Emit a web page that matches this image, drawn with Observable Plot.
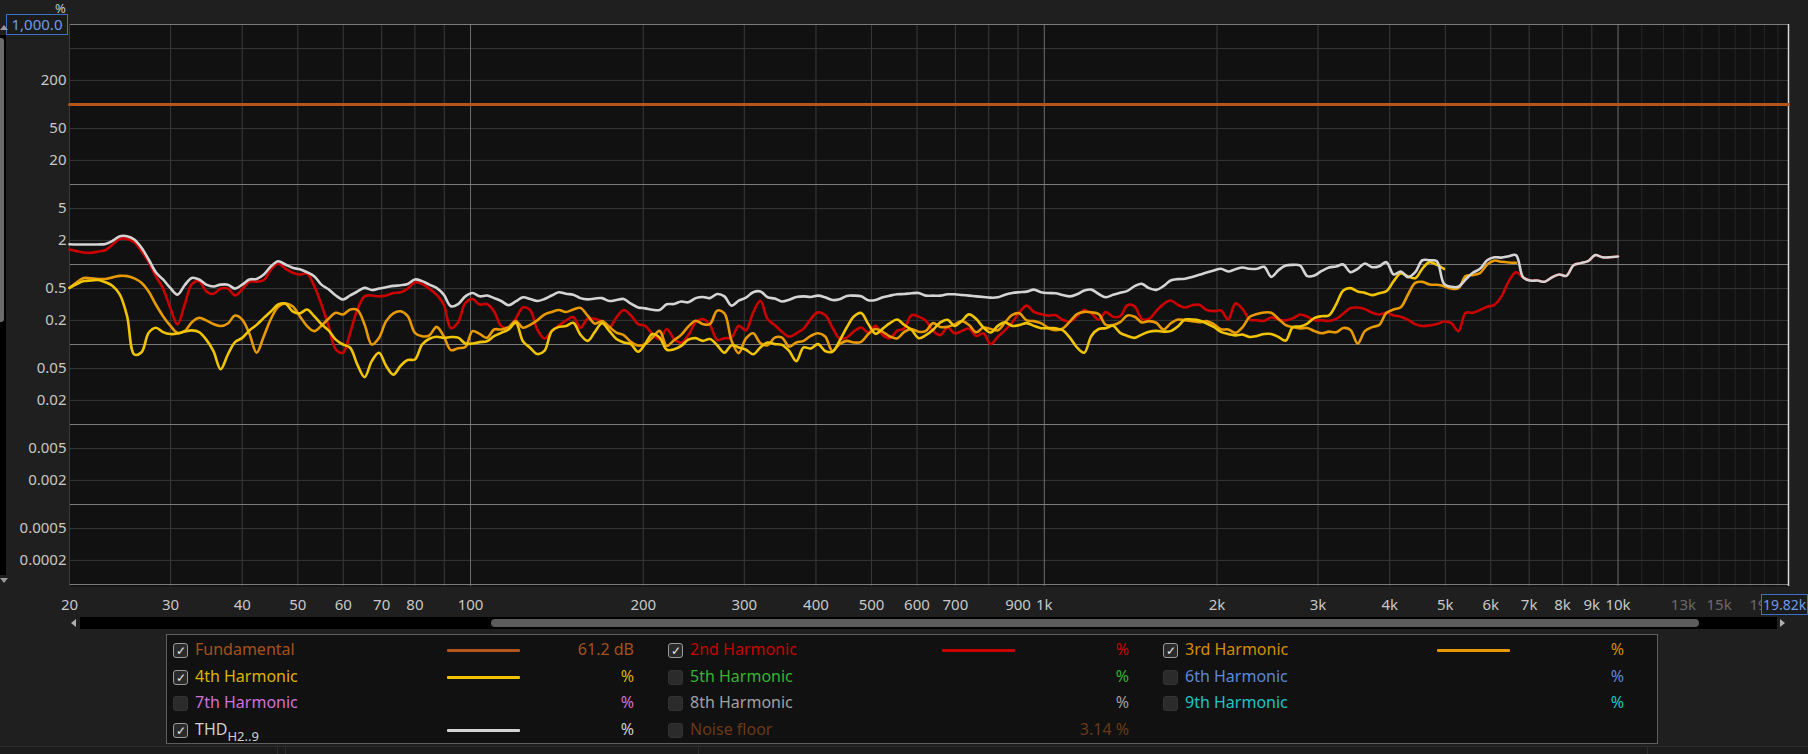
<!DOCTYPE html>
<html><head><meta charset="utf-8">
<script src="https://cdn.jsdelivr.net/npm/d3@7"></script>
<script src="https://cdn.jsdelivr.net/npm/@observablehq/plot@0.6"></script>
<style>
html,body{margin:0;padding:0;background:#1f1f1f;}
#wrap{position:relative;width:1808px;height:754px;overflow:hidden;background:#1f1f1f;font-family:"Noto Sans",sans-serif;}
#chart{position:absolute;left:0;top:0;}
.abs{position:absolute;}
.box{position:absolute;border:1px solid #3d6fc4;color:#6d9be6;background:#1b1b1b;font-size:15px;line-height:20px;box-sizing:border-box;white-space:nowrap;overflow:hidden;}
.cb{position:absolute;width:15px;height:15px;border-radius:3px;box-sizing:border-box;}
.cb.on{background:#2a2a2a;border:1px solid #9a9a9a;color:#e8e8e8;font-size:12px;line-height:13px;text-align:center;}
.cb.off{background:#2b2b2b;border:1px solid #333;}
.lab{position:absolute;font-size:16px;line-height:20px;white-space:nowrap;}
.val{position:absolute;font-size:16px;line-height:20px;white-space:nowrap;text-align:right;width:120px;}
.smp{position:absolute;width:73px;height:3px;border-radius:1px;}
</style></head><body>
<div id="wrap"><div id="chart"></div></div>
<script>
// ---- data ----
const freqs = [
20, 20.59, 21.19, 21.81, 22.45, 23.11, 23.78, 24.48, 25.2, 25.94, 26.7, 27.48,
28.28, 29.11, 29.97, 30.84, 31.75, 32.68, 33.64, 34.62, 35.64, 36.68, 37.76, 38.86,
40, 41.17, 42.38, 43.62, 44.9, 46.22, 47.57, 48.96, 50.4, 51.88, 53.39, 54.96,
56.57, 58.23, 59.93, 61.69, 63.5, 65.36, 67.27, 69.24, 71.27, 73.36, 75.51, 77.72,
80, 82.34, 84.76, 87.24, 89.8, 92.43, 95.14, 97.93, 100.8, 103.7, 106.8, 109.9,
113.1, 116.5, 119.9, 123.4, 127, 130.7, 134.5, 138.5, 142.5, 146.7, 151, 155.4,
160, 164.7, 169.5, 174.5, 179.6, 184.9, 190.3, 195.9, 201.6, 207.5, 213.6, 219.8,
226.3, 232.9, 239.7, 246.8, 254, 261.4, 269.1, 277, 285.1, 293.4, 302, 310.9,
320, 329.4, 339, 349, 359.2, 369.7, 380.6, 391.7, 403.2, 415, 427.2, 439.7,
452.5, 465.8, 479.5, 493.5, 508, 522.9, 538.2, 554, 570.2, 586.9, 604.1, 621.8,
640, 658.8, 678.1, 697.9, 718.4, 739.4, 761.1, 783.4, 806.4, 830, 854.3, 879.3,
905.1, 931.6, 958.9, 987, 1016, 1046, 1076, 1108, 1140, 1174, 1208, 1244,
1280, 1318, 1356, 1396, 1437, 1479, 1522, 1567, 1613, 1660, 1709, 1759,
1810, 1863, 1918, 1974, 2032, 2092, 2153, 2216, 2281, 2348, 2416, 2487,
2560, 2635, 2712, 2792, 2874, 2958, 3044, 3134, 3225, 3320, 3417, 3517,
3620, 3727, 3836, 3948, 4064, 4183, 4305, 4432, 4561, 4695, 4833, 4974,
5120, 5270, 5424, 5583, 5747, 5915, 6089, 6267, 6451, 6640, 6834, 7035,
7241, 7453, 7671, 7896, 8127, 8366, 8611, 8863, 9123, 9390, 9665, 10000];

const thd = [
1.79, 1.78, 1.78, 1.78, 1.78, 1.81, 1.98, 2.26, 2.26, 2.05, 1.62, 1.155,
0.80, 0.65, 0.51, 0.42, 0.55, 0.68, 0.65, 0.56, 0.53, 0.56, 0.56, 0.50,
0.56, 0.65, 0.66, 0.75, 0.95, 1.10, 1.0, 0.91, 0.87, 0.80, 0.715, 0.56,
0.49, 0.41, 0.365, 0.41, 0.46, 0.51, 0.48, 0.50, 0.52, 0.54, 0.55, 0.57,
0.65, 0.62, 0.56, 0.51, 0.42, 0.30, 0.32, 0.40, 0.44, 0.40, 0.41, 0.38,
0.35, 0.31, 0.345, 0.39, 0.37, 0.35, 0.37, 0.41, 0.45, 0.43, 0.42, 0.38,
0.367, 0.375, 0.38, 0.35, 0.36, 0.371, 0.324, 0.291, 0.283, 0.272, 0.27, 0.318,
0.321, 0.345, 0.337, 0.38, 0.393, 0.38, 0.428, 0.40, 0.306, 0.353, 0.385, 0.45,
0.46, 0.389, 0.375, 0.345, 0.362, 0.393, 0.40, 0.393, 0.408, 0.389, 0.36, 0.367,
0.405, 0.408, 0.40, 0.357, 0.36, 0.389, 0.408, 0.424, 0.428, 0.437, 0.44, 0.408,
0.408, 0.408, 0.424, 0.424, 0.416, 0.408, 0.40, 0.393, 0.385, 0.389, 0.42, 0.44,
0.45, 0.458, 0.485, 0.45, 0.44, 0.437, 0.416, 0.40, 0.424, 0.472, 0.485, 0.428,
0.39, 0.418, 0.442, 0.468, 0.536, 0.573, 0.506, 0.482, 0.536, 0.631, 0.656, 0.662,
0.70, 0.743, 0.794, 0.841, 0.883, 0.818, 0.874, 0.917, 0.883, 0.883, 0.935, 0.70,
0.85, 0.972, 0.99, 0.97, 0.715, 0.73, 0.83, 0.917, 0.944, 1.0, 0.802, 0.883,
1.03, 0.926, 0.953, 1.07, 0.75, 0.818, 0.694, 0.802, 1.13, 1.13, 1.10, 0.573,
0.526, 0.526, 0.649, 0.787, 0.883, 1.13, 1.23, 1.22, 1.27, 1.31, 0.69, 0.63,
0.63, 0.61, 0.69, 0.75, 0.72, 0.98, 1.04, 1.1, 1.31, 1.23, 1.23, 1.26];

const h2 = [
1.54, 1.47, 1.41, 1.40, 1.45, 1.52, 1.78, 2.09, 2.09, 1.90, 1.47, 1.07,
0.715, 0.50, 0.287, 0.178, 0.316, 0.57, 0.62, 0.46, 0.43, 0.50, 0.50, 0.41,
0.49, 0.61, 0.61, 0.64, 0.87, 1.02, 0.89, 0.79, 0.75, 0.77, 0.54, 0.316,
0.17, 0.087, 0.079, 0.14, 0.274, 0.40, 0.41, 0.40, 0.41, 0.44, 0.45, 0.50,
0.60, 0.57, 0.50, 0.42, 0.316, 0.16, 0.19, 0.33, 0.37, 0.316, 0.32, 0.26,
0.17, 0.16, 0.21, 0.29, 0.27, 0.154, 0.119, 0.147, 0.172, 0.20, 0.22, 0.162,
0.21, 0.21, 0.193, 0.163, 0.218, 0.27, 0.231, 0.18, 0.171, 0.135, 0.117, 0.156,
0.117, 0.105, 0.131, 0.189, 0.208, 0.175, 0.114, 0.12, 0.122, 0.171, 0.151, 0.252,
0.353, 0.208, 0.175, 0.144, 0.125, 0.138, 0.158, 0.208, 0.252, 0.233, 0.163, 0.119,
0.122, 0.146, 0.163, 0.141, 0.171, 0.131, 0.12, 0.148, 0.16, 0.233, 0.223, 0.198,
0.148, 0.131, 0.163, 0.138, 0.148, 0.158, 0.128, 0.138, 0.101, 0.125, 0.151, 0.189,
0.252, 0.306, 0.256, 0.24, 0.229, 0.233, 0.204, 0.193, 0.225, 0.27, 0.245, 0.204,
0.254, 0.222, 0.226, 0.31, 0.30, 0.209, 0.209, 0.262, 0.32, 0.355, 0.313, 0.29,
0.31, 0.313, 0.27, 0.261, 0.266, 0.205, 0.326, 0.279, 0.205, 0.201, 0.197, 0.218,
0.205, 0.2, 0.213, 0.237, 0.222, 0.201, 0.201, 0.197, 0.209, 0.244, 0.285, 0.29,
0.277, 0.249, 0.237, 0.249, 0.231, 0.222, 0.203, 0.18, 0.17, 0.173, 0.18, 0.194,
0.185, 0.147, 0.249, 0.249, 0.27, 0.296, 0.313, 0.402, 0.619, 0.80, 0.69, 0.63,
0.63, 0.61, 0.69, 0.75, 0.72, 0.98, 1.04, 1.1, 1.31, 1.23, 1.23, 1.26];

const h3 = [
0.51, 0.60, 0.68, 0.67, 0.66, 0.66, 0.69, 0.72, 0.715, 0.67, 0.59, 0.46,
0.316, 0.226, 0.172, 0.14, 0.147, 0.19, 0.215, 0.20, 0.18, 0.17, 0.183, 0.23,
0.205, 0.136, 0.079, 0.127, 0.21, 0.296, 0.325, 0.30, 0.226, 0.17, 0.147, 0.172,
0.21, 0.249, 0.237, 0.274, 0.27, 0.178, 0.10, 0.121, 0.196, 0.245, 0.26, 0.226,
0.14, 0.127, 0.13, 0.166, 0.127, 0.085, 0.09, 0.093, 0.147, 0.136, 0.121, 0.154,
0.154, 0.165, 0.196, 0.162, 0.176, 0.20, 0.237, 0.255, 0.27, 0.255, 0.274, 0.287,
0.229, 0.182, 0.196, 0.166, 0.141, 0.131, 0.108, 0.097, 0.101, 0.122, 0.148, 0.096,
0.113, 0.132, 0.168, 0.198, 0.18, 0.18, 0.265, 0.245, 0.111, 0.078, 0.119, 0.138,
0.104, 0.098, 0.122, 0.122, 0.094, 0.106, 0.111, 0.128, 0.138, 0.126, 0.083, 0.101,
0.111, 0.106, 0.108, 0.135, 0.156, 0.144, 0.126, 0.119, 0.144, 0.156, 0.144, 0.148,
0.185, 0.166, 0.166, 0.178, 0.196, 0.175, 0.142, 0.163, 0.156, 0.151, 0.189, 0.235,
0.245, 0.2, 0.196, 0.185, 0.161, 0.151, 0.158, 0.193, 0.24, 0.256, 0.252, 0.24,
0.176, 0.175, 0.19, 0.231, 0.222, 0.189, 0.196, 0.187, 0.154, 0.183, 0.205, 0.201,
0.196, 0.19, 0.196, 0.18, 0.155, 0.154, 0.14, 0.165, 0.222, 0.24, 0.251, 0.249,
0.209, 0.175, 0.165, 0.159, 0.161, 0.147, 0.138, 0.145, 0.142, 0.161, 0.152, 0.103,
0.147, 0.165, 0.176, 0.249, 0.274, 0.293, 0.422, 0.59, 0.607, 0.562, 0.557, 0.536,
0.5, 0.506, 0.715, 0.736, 0.78, 1.0, 1.12, 1.08, 1.06, 1.05];

const h4 = [
0.51, 0.57, 0.62, 0.63, 0.64, 0.60, 0.54, 0.42, 0.226, 0.075, 0.08, 0.14,
0.162, 0.143, 0.135, 0.137, 0.145, 0.15, 0.143, 0.115, 0.0825, 0.049, 0.075, 0.107,
0.121, 0.15, 0.176, 0.215, 0.26, 0.316, 0.325, 0.26, 0.245, 0.274, 0.226, 0.18,
0.15, 0.115, 0.10, 0.091, 0.056, 0.039, 0.062, 0.079, 0.054, 0.042, 0.054, 0.064,
0.065, 0.10, 0.118, 0.125, 0.121, 0.124, 0.122, 0.103, 0.103, 0.107, 0.11, 0.127,
0.14, 0.154, 0.187, 0.11, 0.091, 0.076, 0.083, 0.147, 0.166, 0.17, 0.187, 0.133,
0.111, 0.144, 0.184, 0.148, 0.117, 0.106, 0.101, 0.081, 0.102, 0.135, 0.122, 0.086,
0.087, 0.096, 0.115, 0.12, 0.111, 0.117, 0.098, 0.079, 0.098, 0.092, 0.086, 0.0756,
0.092, 0.106, 0.101, 0.099, 0.083, 0.062, 0.092, 0.089, 0.101, 0.083, 0.081, 0.111,
0.163, 0.224, 0.248, 0.18, 0.136, 0.158, 0.185, 0.205, 0.175, 0.153, 0.12, 0.131,
0.153, 0.189, 0.204, 0.171, 0.198, 0.238, 0.208, 0.163, 0.141, 0.171, 0.189, 0.171,
0.175, 0.185, 0.171, 0.16, 0.16, 0.16, 0.151, 0.122, 0.092, 0.079, 0.128, 0.156,
0.16, 0.171, 0.14, 0.128, 0.121, 0.133, 0.144, 0.148, 0.145, 0.147, 0.168, 0.205,
0.205, 0.2, 0.183, 0.166, 0.144, 0.135, 0.13, 0.133, 0.124, 0.128, 0.135, 0.135,
0.124, 0.112, 0.165, 0.168, 0.183, 0.215, 0.226, 0.231, 0.316, 0.473, 0.506, 0.46,
0.442, 0.414, 0.438, 0.464, 0.619, 0.78, 0.708, 0.675, 0.891, 1.07, 0.99, 0.883];

const fundamentalFreqs = [20, 19820];
const fundamentalPct = [100, 100];

const yTickLabels = [200, 50, 20, 5, 2, 0.5, 0.2, 0.05, 0.02, 0.005, 0.002, 0.0005, 0.0002];
const yGridMajor = [1000, 100, 10, 1, 0.1, 0.01, 0.001, 0.0001];
const yGridMinor = [500, 200, 50, 20, 5, 2, 0.5, 0.2, 0.05, 0.02, 0.005, 0.002, 0.0005, 0.0002];
const xTickLabels = [20, 30, 40, 50, 60, 70, 80, 100, 200, 300, 400, 500, 600, 700, 900, 1000,
  2000, 3000, 4000, 5000, 6000, 7000, 8000, 9000, 10000];
const xDimTickLabels = [13000, 15000];
const xLastDimTick = [19000];
const xGridMajor = [100, 1000, 10000];
const xGridMinor = [30, 40, 50, 60, 70, 80, 90, 200, 300, 400, 500, 600, 700, 800, 900,
  2000, 3000, 4000, 5000, 6000, 7000, 8000, 9000];
const xGridFaint = [11000, 12000, 13000, 14000, 15000, 16000, 17000, 18000, 19000];

const legendNames = ["Fundamental", "2nd Harmonic", "3rd Harmonic", "4th Harmonic", "5th Harmonic",
  "6th Harmonic", "7th Harmonic", "8th Harmonic", "9th Harmonic", "THD", "Noise floor"];
const legendColors = ["#a4521c", "#c80000", "#d48c00", "#dcb400", "#34b434", "#5c88d8",
  "#d070d8", "#a0a0a0", "#1cc4c4", "#cfcfcf", "#6a3a16"];
const lineColors = ["#b4561c", "#cc0000", "#e69a00", "#f0c400", null, null, null, null, null, "#d4d4d4", null];
const legendChecked = [true, true, true, true, false, false, false, false, false, true, false];
const legendValues = ["61.2 dB", "%", "%", "%", "%", "%", "%", "%", "%", "%", "3.14 %"];

// ---- chart ----
const rowsOf = vals => vals.map((v, i) => ({f: freqs[i], v}));
const fundRows = fundamentalFreqs.map((f, i) => ({f, v: fundamentalPct[i]}));
const fmtHz = d => d >= 1000 ? (d / 1000) + "k" : String(d);
const yDomain = [1000 / Math.pow(10, 562 / 80), 1000];

const chart = Plot.plot({
  width: 1808, height: 618,
  marginLeft: 69, marginRight: 20, marginTop: 24, marginBottom: 32,
  style: {background: "transparent", color: "#c8c8c8", fontFamily: '"Noto Sans", sans-serif', fontSize: "15px"},
  x: {type: "log", domain: [20, 19820], axis: null},
  y: {type: "log", domain: yDomain, axis: null},
  marks: [
    Plot.frame({fill: "#111111", stroke: null}),
    Plot.ruleX(xGridFaint, {stroke: "#262626", strokeWidth: 1}),
    Plot.ruleX(xGridMinor, {stroke: "#3a3a3a", strokeWidth: 1}),
    Plot.ruleY(yGridMinor, {stroke: "#383838", strokeWidth: 1}),
    Plot.ruleX(xGridMajor, {stroke: "#6e6e6e", strokeWidth: 1}),
    Plot.ruleY(yGridMajor, {stroke: "#7c7c7c", strokeWidth: 1}),
    Plot.ruleX([20], {stroke: "#3a3a3a"}),
    Plot.ruleX([19820], {stroke: "#d8d8d8", strokeWidth: 1.5}),
    Plot.text(yTickLabels, {y: d => d, text: d => String(d), frameAnchor: "left", textAnchor: "end", dx: -3,
      fill: "#c8c8c8", fontSize: 15}),
    Plot.text(xTickLabels, {x: d => d, text: fmtHz, frameAnchor: "bottom", lineAnchor: "middle", dy: 19,
      fill: "#c8c8c8", fontSize: 15}),
    Plot.text(xDimTickLabels, {x: d => d, text: fmtHz, frameAnchor: "bottom", lineAnchor: "middle", dy: 19,
      fill: "#6a6a6a", fontSize: 15}),
    Plot.text(xLastDimTick, {x: d => d, text: fmtHz, frameAnchor: "bottom", lineAnchor: "middle", dy: 19, dx: -16,
      fill: "#6a6a6a", fontSize: 15}),
    Plot.line(fundRows, {x: "f", y: "v", stroke: lineColors[0], strokeWidth: 3}),
    Plot.line(rowsOf(h2), {x: "f", y: "v", stroke: lineColors[1], strokeWidth: 2.6, curve: "catmull-rom"}),
    Plot.line(rowsOf(h3), {x: "f", y: "v", stroke: lineColors[2], strokeWidth: 2.6, curve: "catmull-rom"}),
    Plot.line(rowsOf(h4), {x: "f", y: "v", stroke: lineColors[3], strokeWidth: 2.6, curve: "catmull-rom"}),
    Plot.line(rowsOf(thd), {x: "f", y: "v", stroke: lineColors[9], strokeWidth: 2.6, curve: "catmull-rom"})
  ]
});
const wrap = document.getElementById("wrap");
document.getElementById("chart").appendChild(chart);

function add(cls, css, html) {
  const d = document.createElement("div");
  d.className = cls;
  d.style.cssText = css;
  if (html != null) d.innerHTML = html;
  wrap.appendChild(d);
  return d;
}
// y unit + top value box
add("abs", "left:55px;top:3px;font-size:13px;line-height:11px;color:#c8c8c8;", "%");
add("box", "left:6px;top:14px;width:62px;height:21px;line-height:19px;text-align:center;", "1,000.0");
// left vertical scrollbar
add("abs", "left:0;top:35px;width:6px;height:540px;background:#000;");
add("abs", "left:0;top:38px;width:4px;height:284px;background:#6c6c6c;border-radius:0 3px 3px 0;");
add("abs", "left:0;top:25px;width:0;height:0;border-left:4px solid transparent;border-right:4px solid transparent;border-bottom:5px solid #9a9a9a;");
add("abs", "left:0;top:578px;width:0;height:0;border-left:4px solid transparent;border-right:4px solid transparent;border-top:5px solid #9a9a9a;");
// horizontal scrollbar
add("abs", "left:80px;top:617px;width:1697px;height:12px;background:#000;");
add("abs", "left:491px;top:619px;width:1208px;height:8px;background:#5c5c5c;border-radius:4px;");
add("abs", "left:71px;top:619px;width:0;height:0;border-top:4px solid transparent;border-bottom:4px solid transparent;border-right:5px solid #b0b0b0;");
add("abs", "left:1780px;top:619px;width:0;height:0;border-top:4px solid transparent;border-bottom:4px solid transparent;border-left:5px solid #b0b0b0;");
// right value box
add("box", "left:1761px;top:594px;width:47px;height:21px;line-height:19px;padding-left:1px;font-size:14px;", "19.82k");
// legend
add("abs", "left:166px;top:634px;width:1492px;height:110px;border:1px solid #5e5e5e;background:#111;box-sizing:border-box;");
const colX = [173, 668, 1163];
const rowY = [650, 677, 703, 730];
legendNames.forEach((name, i) => {
  const cx = colX[i % 3], cy = rowY[Math.floor(i / 3)];
  const on = legendChecked[i];
  add("cb " + (on ? "on" : "off"), `left:${cx}px;top:${cy - 7}px;`, on ? "&#10003;" : "");
  const label = name === "THD" ? 'THD<sub style="font-size:13px;vertical-align:-6px;">H2..9</sub>' : name;
  add("lab", `left:${cx + 22}px;top:${cy - 11}px;color:${legendColors[i]};`, label);
  if (lineColors[i]) add("smp", `left:${cx + 274}px;top:${cy - 1}px;background:${lineColors[i]};`);
  add("val", `left:${cx + 461 - 120}px;top:${cy - 11}px;color:${legendColors[i]};`, legendValues[i]);
});
// bottom status strip
add("abs", "left:0;top:746px;width:1808px;height:8px;background:#1c1c1c;border-top:1px solid #2c2c2c;");
[277, 285, 698, 1647].forEach(x => add("abs", `left:${x}px;top:747px;width:1px;height:7px;background:#2e2e2e;`));
</script>
</body></html>
